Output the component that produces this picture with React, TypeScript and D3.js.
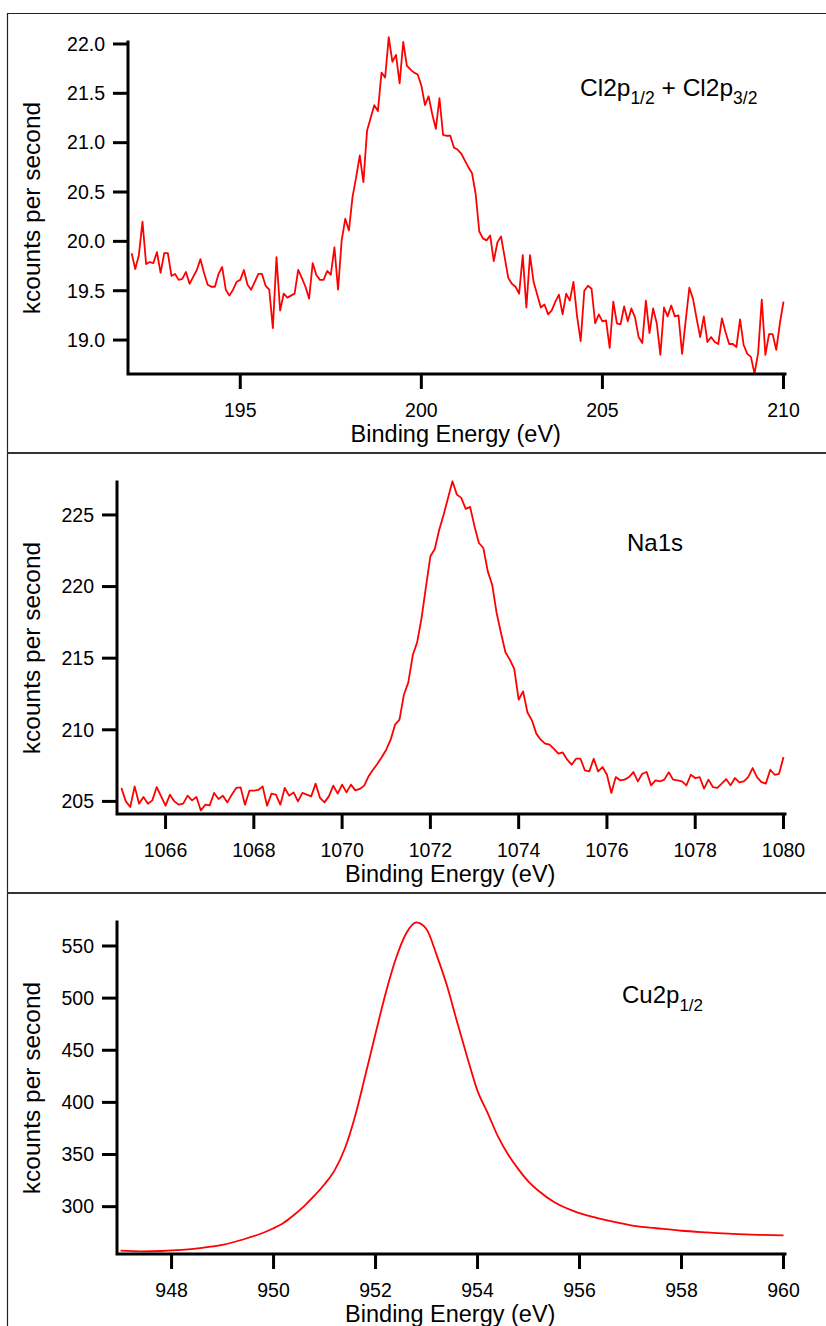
import React from 'react';
import * as d3 from 'd3';

const FONT = '"Liberation Sans", Arial, Helvetica, sans-serif';

// ---------- Panel 1: Cl2p ----------
const clStart = 192.0;
const clStep = 0.1;
const clCounts = [
  19.88, 19.72, 19.86, 20.20, 19.77, 19.79, 19.78, 19.89, 19.68, 19.88,
  19.88, 19.65, 19.67, 19.61, 19.62, 19.69, 19.57, 19.64, 19.71, 19.82,
  19.68, 19.56, 19.54, 19.54, 19.67, 19.74, 19.51, 19.45, 19.51, 19.59,
  19.61, 19.71, 19.56, 19.51, 19.59, 19.67, 19.67, 19.55, 19.51, 19.12,
  19.84, 19.30, 19.47, 19.43, 19.45, 19.47, 19.71, 19.63, 19.54, 19.42,
  19.78, 19.66, 19.61, 19.61, 19.70, 19.66, 19.94, 19.51, 20.01, 20.23,
  20.11, 20.45, 20.65, 20.87, 20.60, 21.12, 21.25, 21.38, 21.32, 21.71,
  21.66, 22.07, 21.82, 21.89, 21.60, 22.02, 21.78, 21.74, 21.71, 21.69,
  21.58, 21.38, 21.47, 21.29, 21.14, 21.45, 21.08, 21.07, 21.07, 20.95,
  20.93, 20.89, 20.82, 20.75, 20.69, 20.48, 20.10, 20.03, 20.01, 20.06,
  19.80, 19.99, 20.05, 19.84, 19.63, 19.57, 19.54, 19.47, 19.86, 19.33,
  19.86, 19.59, 19.46, 19.33, 19.36, 19.26, 19.30, 19.39, 19.46, 19.26,
  19.47, 19.40, 19.59, 19.24, 18.99, 19.50, 19.55, 19.52, 19.17, 19.26,
  19.19, 19.20, 18.92, 19.39, 19.17, 19.16, 19.34, 19.19, 19.32, 19.23,
  19.03, 18.97, 19.40, 19.07, 19.32, 19.17, 18.85, 19.33, 19.24, 19.35,
  19.24, 19.25, 18.86, 19.20, 19.53, 19.42, 19.22, 19.03, 19.24, 18.98,
  19.03, 18.98, 18.96, 19.22, 19.08, 18.96, 18.96, 18.93, 19.21, 18.95,
  18.86, 18.83, 18.66, 18.87, 19.41, 18.85, 19.06, 19.06, 18.90, 19.17,
  19.39,
];
const clXTicks = [195, 200, 205, 210];
const clYTicks = [19.0, 19.5, 20.0, 20.5, 21.0, 21.5, 22.0];

// ---------- Panel 2: Na1s ----------
const naStart = 1065.0;
const naStep = 0.1;
const naCounts = [
  205.94, 205.00, 204.61, 206.05, 204.84, 205.31, 204.84, 205.07, 206.00, 205.35,
  204.70, 205.47, 205.00, 204.77, 204.84, 205.40, 205.07, 205.31, 204.37, 204.77,
  204.72, 205.59, 205.17, 205.40, 204.93, 205.47, 205.94, 205.98, 204.77, 205.75,
  205.75, 205.80, 206.05, 204.70, 205.54, 205.47, 204.77, 205.94, 205.40, 205.63,
  205.00, 205.59, 205.47, 205.35, 206.24, 205.24, 204.93, 205.35, 206.10, 205.54,
  206.17, 205.63, 206.17, 205.77, 205.87, 206.10, 206.75, 207.21, 207.63, 208.10,
  208.61, 209.31, 210.36, 210.71, 212.45, 213.31, 215.20, 216.10, 217.80, 220.00,
  222.11, 222.62, 223.97, 225.02, 226.19, 227.35, 226.42, 226.19, 225.42, 225.56,
  224.20, 223.04, 222.69, 221.06, 220.13, 218.16, 216.76, 215.41, 214.90, 214.25,
  212.10, 212.68, 211.21, 210.66, 209.73, 209.31, 209.03, 208.96, 208.66, 208.33,
  208.42, 207.91, 207.56, 207.98, 207.98, 207.16, 207.09, 207.98, 207.09, 207.40,
  206.86, 205.59, 206.70, 206.47, 206.52, 206.70, 207.05, 206.40, 206.93, 207.05,
  206.12, 206.47, 206.40, 206.52, 207.03, 206.52, 206.47, 206.40, 206.12, 206.86,
  206.63, 206.70, 205.89, 206.52, 206.00, 205.94, 206.24, 206.56, 206.12, 206.63,
  206.33, 206.40, 206.70, 207.33, 206.70, 206.35, 206.24, 207.21, 206.86, 206.93,
  208.10,
];
const naXTicks = [1066, 1068, 1070, 1072, 1074, 1076, 1078, 1080];
const naYTicks = [205, 210, 215, 220, 225];

// ---------- Panel 3: Cu2p1/2 ----------
const cuEnergy = [
  947.0, 947.4, 947.8, 948.2, 948.6, 949.0, 949.4, 949.8, 950.0, 950.2,
  950.4, 950.6, 950.8, 951.0, 951.2, 951.4, 951.6, 951.8, 952.0, 952.2,
  952.4, 952.6, 952.8, 953.0, 953.2, 953.4, 953.6, 953.8, 954.0, 954.2,
  954.4, 954.6, 954.8, 955.0, 955.2, 955.5, 955.9, 956.3, 956.7, 957.1,
  957.5, 958.0, 958.5, 959.0, 959.5, 960.0,
];
const cuCounts = [
  257.8, 257.2, 257.5, 258.5, 260.5, 263.3, 268.5, 275.0, 279.3, 284.6,
  292.0, 300.5, 310.5, 321.5, 335.0, 356.0, 387.0, 426.0, 466.0, 505.0,
  538.0, 562.0, 572.6, 566.0, 541.0, 512.0, 477.0, 443.0, 411.0, 389.8,
  367.4, 350.0, 336.0, 324.0, 315.0, 304.5, 295.5, 289.7, 285.2, 281.3,
  279.3, 276.9, 275.3, 273.9, 273.0, 272.5,
];
const cuXTicks = [948, 950, 952, 954, 956, 958, 960];
const cuYTicks = [300, 350, 400, 450, 500, 550];

const xTitle = 'Binding Energy (eV)';
const yTitle = 'kcounts per second';

type Seg = { t: string; sub?: boolean };

type PanelProps = {
  top: number;
  xDomain: [number, number];
  xRange: [number, number];
  yDomain: [number, number];
  energies: number[];
  counts: number[];
  xTicks: number[];
  yTicks: number[];
  yFmt: (v: number) => string;
  label: Seg[];
  labelX: number;
  labelY: number;
  labelSize: number;
  subSize: number;
  curve: d3.CurveFactory;
};

function Panel(p: PanelProps) {
  const plotTop = p.top + 29;
  const plotBottom = p.top + 361;
  const x = d3.scaleLinear().domain(p.xDomain).range(p.xRange);
  const y = d3.scaleLinear().domain(p.yDomain).range([plotBottom, plotTop]);
  const line = d3
    .line<number>()
    .x((_, i) => x(p.energies[i]))
    .y((d) => y(d))
    .curve(p.curve);
  const x0 = p.xRange[0];
  const x1 = p.xRange[1];
  const tickLen = 15;
  const cx = (x0 + x1) / 2;
  const cy = (plotTop + plotBottom) / 2;
  return (
    <g>
      <path d={line(p.counts) || ''} fill="none" stroke="#ff0000" strokeWidth={1.8} strokeLinejoin="round" />
      <path
        d={`M${x0},${plotTop}V${plotBottom}H${x1 + 1.5}`}
        fill="none"
        stroke="#000"
        strokeWidth={3}
        strokeLinejoin="miter"
        strokeLinecap="square"
      />
      {p.xTicks.map((t) => (
        <g key={'x' + t}>
          <line x1={x(t)} x2={x(t)} y1={plotBottom} y2={plotBottom + tickLen} stroke="#000" strokeWidth={3} />
          <text x={x(t)} y={plotBottom + 43} textAnchor="middle" fontSize={19.5} fontFamily={FONT} fill="#000">
            {t}
          </text>
        </g>
      ))}
      {p.yTicks.map((t) => (
        <g key={'y' + t}>
          <line x1={x0 - tickLen} x2={x0} y1={y(t)} y2={y(t)} stroke="#000" strokeWidth={3} />
          <text
            x={x0 - 23}
            y={y(t)}
            dy="0.35em"
            textAnchor="end"
            fontSize={19.5}
            fontFamily={FONT}
            fill="#000"
          >
            {p.yFmt(t)}
          </text>
        </g>
      ))}
      <text x={cx} y={plotBottom + 68} textAnchor="middle" fontSize={23.5} fontFamily={FONT} fill="#000">
        {xTitle}
      </text>
      <text
        transform={`translate(40,${cy}) rotate(-90)`}
        textAnchor="middle"
        fontSize={24.5}
        fontFamily={FONT}
        fill="#000"
      >
        {yTitle}
      </text>
      <text x={p.labelX} y={p.labelY} fontSize={p.labelSize} fontFamily={FONT} fill="#000">
        {p.label.map((s, i) => {
          const prevSub = i > 0 && p.label[i - 1].sub;
          const dy = s.sub ? 8 : prevSub ? -8 : 0;
          return (
            <tspan key={i} dy={dy} fontSize={s.sub ? p.subSize : p.labelSize}>
              {s.t}
            </tspan>
          );
        })}
      </text>
    </g>
  );
}

const clEnergies = clCounts.map((_, i) => +(clStart + i * clStep).toFixed(2));
const naEnergies = naCounts.map((_, i) => +(naStart + i * naStep).toFixed(2));

export default function App() {
  return (
    <svg
      width={826}
      height={1326}
      style={{ position: 'absolute', left: 0, top: 0, background: '#fff' }}
    >
      <rect x={0} y={0} width={826} height={1326} fill="#fff" />
      <line x1={7.5} x2={7.5} y1={13} y2={1326} stroke="#222" strokeWidth={1.2} />
      <line x1={7} x2={826} y1={13.5} y2={13.5} stroke="#222" strokeWidth={1.2} />
      <line x1={7} x2={826} y1={453} y2={453} stroke="#333" strokeWidth={2} />
      <line x1={7} x2={826} y1={893} y2={893} stroke="#333" strokeWidth={2} />

      <Panel
        top={13}
        xDomain={[191.9, 210]}
        xRange={[128, 783.5]}
        yDomain={[18.656, 22.02]}
        energies={clEnergies}
        counts={clCounts}
        xTicks={clXTicks}
        yTicks={clYTicks}
        yFmt={(v) => v.toFixed(1)}
        label={[
          { t: 'Cl2p' },
          { t: '1/2', sub: true },
          { t: ' + Cl2p' },
          { t: '3/2', sub: true },
        ]}
        labelX={580}
        labelY={96}
        labelSize={24.5}
        subSize={17.5}
        curve={d3.curveLinear}
      />
      <Panel
        top={453}
        xDomain={[1064.9, 1080]}
        xRange={[117, 783.5]}
        yDomain={[204.12, 227.3]}
        energies={naEnergies}
        counts={naCounts}
        xTicks={naXTicks}
        yTicks={naYTicks}
        yFmt={(v) => String(v)}
        label={[{ t: 'Na1s' }]}
        labelX={627}
        labelY={551}
        labelSize={24}
        subSize={17}
        curve={d3.curveLinear}
      />
      <Panel
        top={893}
        xDomain={[946.93, 960]}
        xRange={[117, 783.5]}
        yDomain={[254.6, 573]}
        energies={cuEnergy}
        counts={cuCounts}
        xTicks={cuXTicks}
        yTicks={cuYTicks}
        yFmt={(v) => String(v)}
        label={[{ t: 'Cu2p' }, { t: '1/2', sub: true }]}
        labelX={622}
        labelY={1003}
        labelSize={24}
        subSize={17}
        curve={d3.curveMonotoneX}
      />
    </svg>
  );
}
